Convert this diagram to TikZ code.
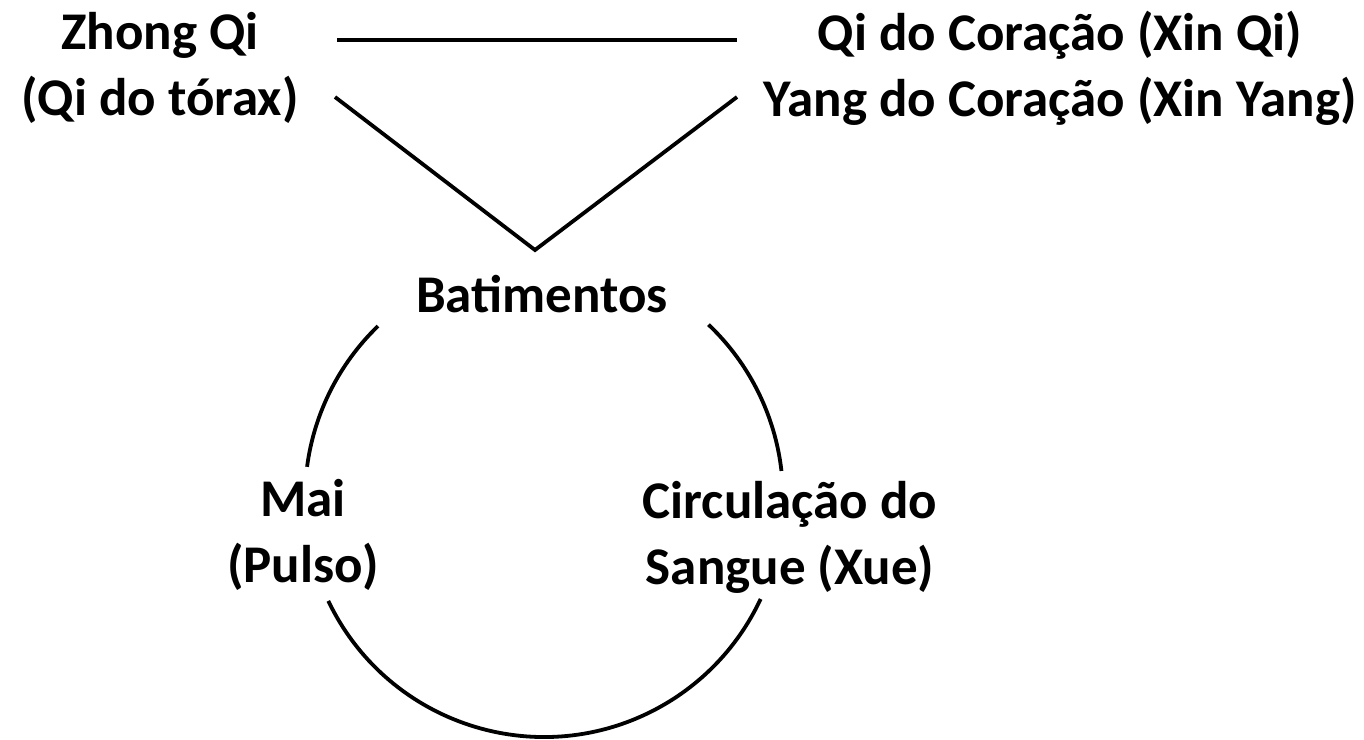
\documentclass[tikz,border=0pt]{standalone}
\usepackage{fontspec}
\setmainfont{Carlito}
\begin{document}
\begin{tikzpicture}[x=1pt,y=-1pt,
  lbl/.style={font=\bfseries\fontsize{53}{66}\selectfont, align=center, inner sep=0pt, anchor=center},
  conn/.style={line width=3.8pt, black}]
\useasboundingbox (0,0) rectangle (1364,739);
\node[lbl] (zq) at (160,68) {Zhong Qi\\(Qi do tórax)};
\node[lbl] (xq) at (1060,68) {Qi do Coração (Xin Qi)\\Yang do Coração (Xin Yang)};
\node[lbl] (bat) at (542,294) {Batimentos};
\node[lbl] (mai) at (303,535) {Mai\\(Pulso)};
\node[lbl] (circ) at (790,537) {Circulação do\\Sangue (Xue)};
\coordinate (h1) at (337,40);
\coordinate (h2) at (737,40);
\coordinate (v1) at (335,97);
\coordinate (apex) at (535,250);
\coordinate (v2) at (737,97);
\coordinate (c) at (544,498);
\draw[conn] (h1) -- (h2);
\draw[conn, line join=miter] (v1) -- (apex) -- (v2);
\draw[conn] (c) ++(-134:239) arc[start angle=-134, end angle=-172.5, radius=239];
\draw[conn] (c) ++(-46.5:239) arc[start angle=-46.5, end angle=-6.5, radius=239];
\draw[conn] (c) ++(-205.5:239) arc[start angle=-205.5, end angle=-335, radius=239];
\end{tikzpicture}
\end{document}
